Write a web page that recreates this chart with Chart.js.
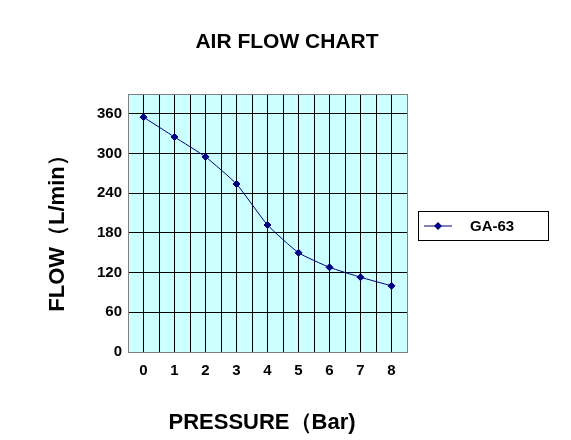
<!DOCTYPE html><html><head><script src="https://cdn.jsdelivr.net/npm/chart.js@4"></script>
<style>body{margin:0;background:#fff}</style></head><body>
<canvas id="c" width="571" height="440" style="width:571px;height:440px"></canvas>
<script>
const pressures=[0,1,2,3,4,5,6,7,8];
const flows=[355,325,295,254,192,150,128,113,100];
const seriesName='GA-63';
const titleText='AIR FLOW CHART';
const xTitle='PRESSURE（Bar)';
const yTitle='FLOW（L/min）';
const bgPlugin={id:'bg',beforeDraw(ch){const a=ch.chartArea,c=ch.ctx;c.save();c.fillStyle='#ccffff';c.fillRect(a.left,a.top,a.right-a.left,a.bottom-a.top);c.restore();},
afterDraw(ch){const c=ch.ctx,a=ch.chartArea;c.save();c.strokeStyle='#808080';c.lineWidth=1;c.strokeRect(a.left+0.5,a.top+0.5,a.right-a.left,a.bottom-a.top);
c.fillStyle='#000';c.textAlign='center';c.textBaseline='middle';
c.font='bold 21px Arial, Liberation Sans';c.fillText(titleText,287,42);
c.font='bold 22px Arial, Liberation Sans';c.fillText(xTitle,262,423);
c.save();c.translate(58,228);c.rotate(-Math.PI/2);c.fillText(yTitle,0,0);c.restore();
c.strokeStyle='#000';c.strokeRect(418.5,211.5,130,29);
c.strokeStyle='#000080';c.beginPath();c.moveTo(424,226);c.lineTo(452,226);c.stroke();
c.fillStyle='#000080';c.beginPath();c.moveTo(438,222);c.lineTo(442,226);c.lineTo(438,230);c.lineTo(434,226);c.closePath();c.fill();
c.fillStyle='#000';c.textAlign='left';c.font='bold 15px Arial, Liberation Sans';c.fillText(seriesName,470,227);
c.restore();}};
new Chart(document.getElementById('c'),{type:'line',
data:{datasets:[{label:seriesName,data:pressures.map((p,i)=>({x:p,y:flows[i]})),borderColor:'#000080',borderWidth:1,pointStyle:'rectRot',pointRadius:3.5,pointBackgroundColor:'#000080',pointBorderColor:'#000080',tension:0.15}]},
options:{responsive:false,animation:false,layout:{padding:{left:0,top:94,right:164,bottom:0}},
plugins:{legend:{display:false},tooltip:{enabled:false}},
scales:{x:{type:'linear',min:-0.5,max:8.5,afterBuildTicks(s){const t=[];for(let v=-0.5;v<=8.51;v+=0.5)t.push({value:v});s.ticks=t;},
afterFit(s){s.height=88;},
grid:{color:'#000',lineWidth:1,drawTicks:false},border:{display:false},
ticks:{padding:10,color:'#000',font:{size:15,weight:'bold',family:'Arial'},autoSkip:false,maxRotation:0,callback:v=>Number.isInteger(v)?v:''}},
y:{min:0,max:390,afterFit(s){s.width=128;},grid:{color:'#000',lineWidth:1,drawTicks:false},border:{display:false},
ticks:{stepSize:30,padding:6,color:'#000',font:{size:15,weight:'bold',family:'Arial'}}}}},
plugins:[bgPlugin]});
</script></body></html>
